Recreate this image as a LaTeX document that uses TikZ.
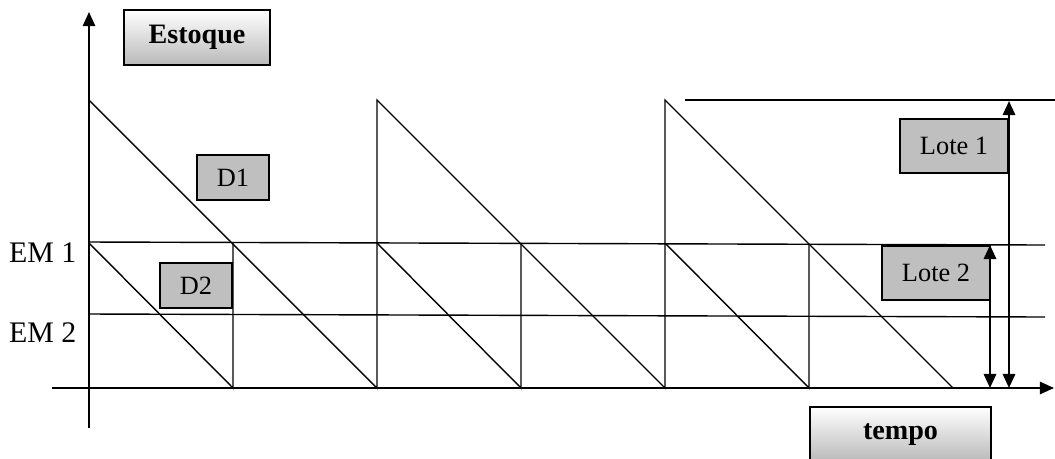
\documentclass[tikz,border=0pt]{standalone}
\usepackage{fontspec}
\setmainfont{Liberation Serif}
\usetikzlibrary{positioning, calc, arrows.meta}

\begin{document}
\begin{tikzpicture}[x=0.02cm, y=-0.02cm, line width=0.8pt,
    lbl/.style={draw, fill=gray!50, inner sep=2pt,
                font=\fontsize{15}{17}\selectfont},
    title/.style={draw, top color=white, bottom color=gray!55,
                  inner sep=2pt, font=\fontsize{16}{18}\selectfont\bfseries},
    axis/.style={-{Triangle[length=8pt, width=7pt]}, line width=1pt},
    dbl/.style={{Triangle[length=8pt, width=7pt]}-{Triangle[length=8pt, width=7pt]}, line width=1.3pt},
    level/.style={font=\fontsize{17}{20}\selectfont, inner sep=0pt},
]
\useasboundingbox (0,0) rectangle (1055,458);

% Axes
\coordinate (o) at (89,388);
\draw[axis] (89,428) -- (89,12);
\draw[axis] (52,388) -- (1054,388);

% Reference levels
\draw (89,242) -- (1045,245);
\draw (89,314) -- (1045,317);
\draw (685,100) -- (1055,100);
\node[level, anchor=east] (em1) at (77,253) {EM 1};
\node[level, anchor=east] (em2) at (77,333) {EM 2};

% Lote 1 sawtooth
\draw (89,100) -- (377,388) -- (377,100) -- (665,388) -- (665,100) -- (953,388);

% Lote 2 sawtooth
\draw (89,243) -- (233,388) -- (233,243);
\draw (377,243) -- (521,388) -- (521,243);
\draw (665,243) -- (809,388) -- (809,244);

% Labels
\node[title, minimum width=2.92cm, minimum height=1.1cm] (estoque) at (197,37.5) {Estoque};
\node[title, minimum width=3.62cm, minimum height=1.1cm] (tempo) at (900.5,434.5) {tempo};
\node[lbl, minimum width=1.44cm, minimum height=0.9cm] (d1) at (233,177.5) {D1};
\node[lbl, minimum width=1.44cm, minimum height=0.9cm] (d2) at (196,285.5) {D2};
\node[lbl, minimum width=2.16cm, minimum height=1.08cm] (lote1) at (954,146) {Lote 1};
\node[lbl, minimum width=2.16cm, minimum height=1.08cm] (lote2) at (936,273) {Lote 2};

% Lot size arrows
\coordinate (l1top) at (1009,101);
\coordinate (l1bot) at (1009,388);
\coordinate (l2top) at (990,245);
\coordinate (l2bot) at (990,388);
\draw[dbl] (l1bot) -- (l1top);
\draw[dbl] (l2bot) -- (l2top);
\end{tikzpicture}
\end{document}
